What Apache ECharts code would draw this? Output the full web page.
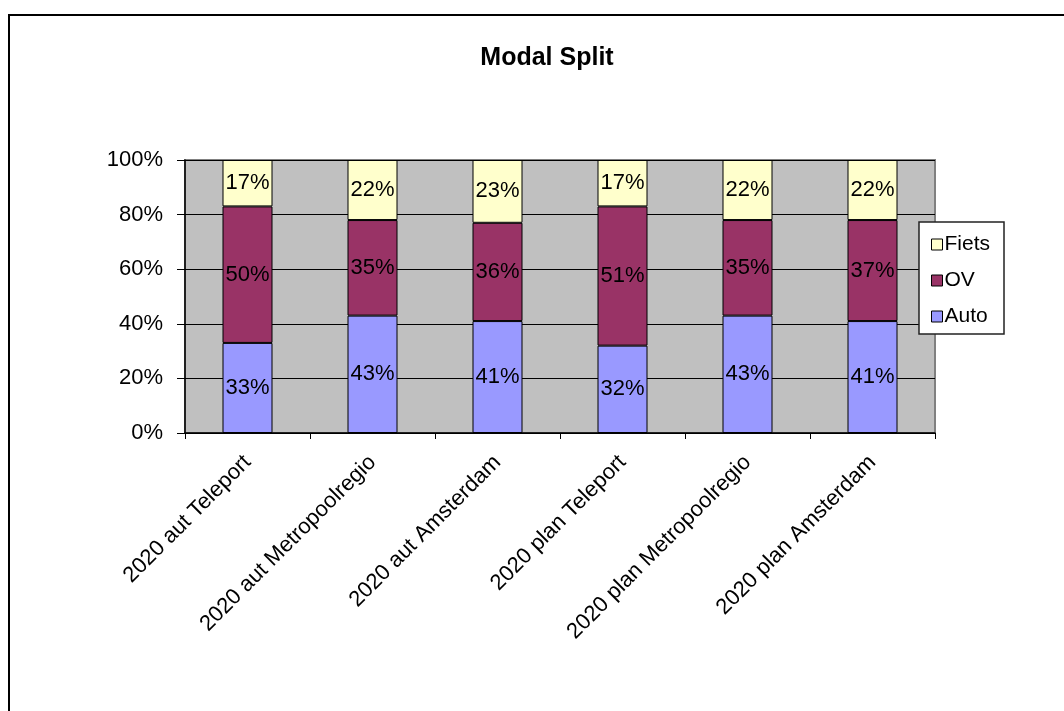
<!DOCTYPE html>
<html>
<head>
<meta charset="utf-8">
<title>Modal Split</title>
<script src="https://cdn.jsdelivr.net/npm/echarts@6/dist/echarts.min.js"></script>
<style>
  html, body { margin: 0; padding: 0; background: #fff; }
  #chart { width: 1064px; height: 711px; }
</style>
</head>
<body>
<div id="chart"></div>
<script>
// Categories and modal shares (percent)
var categories = [
  '2020 aut Teleport',
  '2020 aut Metropoolregio',
  '2020 aut Amsterdam',
  '2020 plan Teleport',
  '2020 plan Metropoolregio',
  '2020 plan Amsterdam'
];
var auto  = [33, 43, 41, 32, 43, 41];
var ov    = [50, 35, 36, 51, 35, 37];
var fiets = [17, 22, 23, 17, 22, 22];
var yTicks = [0, 20, 40, 60, 80, 100];

var FONT = 'Liberation Sans, Arial, sans-serif';

function barSeries(name, data, color) {
  return {
    name: name,
    type: 'bar',
    stack: 'modal',
    data: data,
    barWidth: 50,
    itemStyle: { color: color, borderColor: '#000', borderWidth: 1 },
    label: {
      show: true,
      position: 'inside',
      formatter: '{c}%',
      color: '#000',
      fontFamily: FONT,
      fontSize: 22
    },
    emphasis: { disabled: true }
  };
}

var chart = echarts.init(document.getElementById('chart'));
chart.setOption({
  animation: false,
  backgroundColor: '#fff',
  title: {
    text: 'Modal Split',
    left: 542,
    top: 41,
    textAlign: 'center',
    textStyle: { fontFamily: FONT, fontSize: 25, fontWeight: 'bold', color: '#000' }
  },
  graphic: [{
    type: 'rect',
    shape: { x: 9, y: 15, width: 1200, height: 900 },
    style: { fill: 'none', stroke: '#000', lineWidth: 2 },
    z: 100
  }],
  legend: {
    orient: 'vertical',
    left: 919,
    top: 222,
    data: ['Fiets', 'OV', 'Auto'],
    icon: 'rect',
    itemWidth: 11,
    itemHeight: 11,
    itemGap: 15,
    padding: [12, 14, 7, 12],
    backgroundColor: '#fff',
    borderColor: '#222',
    borderWidth: 1.5,
    itemStyle: { borderColor: '#000', borderWidth: 1 },
    textStyle: { fontFamily: FONT, fontSize: 21, color: '#000', padding: [0, 0, 0, -3] },
    z: 10
  },
  grid: {
    left: 185, top: 160, width: 750, height: 273,
    show: true,
    backgroundColor: '#C0C0C0',
    borderColor: '#808080',
    borderWidth: 2
  },
  xAxis: {
    type: 'category',
    data: categories,
    axisLine: { lineStyle: { color: '#000', width: 1.5 } },
    axisTick: { show: true, alignWithLabel: false, length: 6, lineStyle: { color: '#000' } },
    axisLabel: {
      rotate: 45,
      interval: 0,
      margin: 26,
      color: '#000',
      fontFamily: FONT,
      fontSize: 22
    }
  },
  yAxis: {
    type: 'value',
    min: yTicks[0],
    max: yTicks[yTicks.length - 1],
    interval: yTicks[1] - yTicks[0],
    axisLine: { show: true, lineStyle: { color: '#000', width: 1.5 } },
    axisTick: { show: true, length: 8, lineStyle: { color: '#000' } },
    axisLabel: {
      formatter: '{value}%',
      margin: 22,
      color: '#000',
      fontFamily: FONT,
      fontSize: 22
    },
    splitLine: { show: true, lineStyle: { color: '#000', width: 1 } }
  },
  series: [
    barSeries('Auto', auto, '#9999FF'),
    barSeries('OV', ov, '#993366'),
    barSeries('Fiets', fiets, '#FFFFCC')
  ]
});
</script>
</body>
</html>
